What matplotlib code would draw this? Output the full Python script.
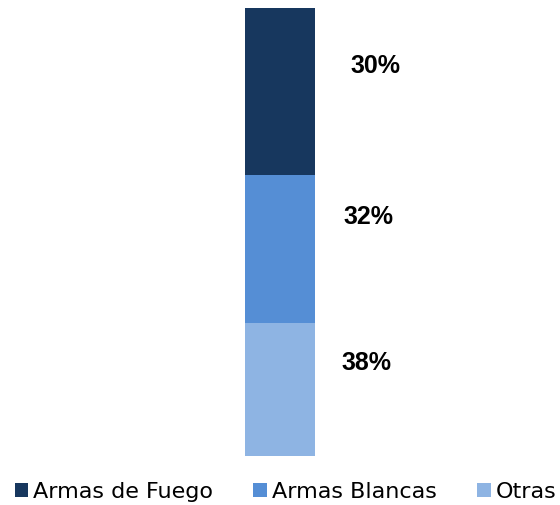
import matplotlib.pyplot as plt
from matplotlib import font_manager
import numpy as np

# categorías (de abajo hacia arriba) y alturas de los segmentos tal como se ven
categorias = ['Otras', 'Armas Blancas', 'Armas de Fuego']
alturas = [29.7, 33.0, 37.3]
# etiquetas de porcentaje mostradas
porcentajes = [38, 32, 30]
colores = ['#8EB4E3', '#558ED5', '#17375E']


def fuente_negrita():
    """Liberation Sans Bold normal (no Narrow)"""
    for f in font_manager.fontManager.ttflist:
        if f.name == 'Liberation Sans' and f.weight in (700, 'bold') \
                and f.style == 'normal':
            return font_manager.FontProperties(fname=f.fname, size=18)
    return font_manager.FontProperties(family='DejaVu Sans',
                                       weight='bold', size=18)


def main():
    fig = plt.figure(figsize=(5.6, 5.05), dpi=100)
    ax = fig.add_axes([0, 49 / 505, 1, 448 / 505])

    base = 0
    barras = []
    for cat, h, c in zip(categorias, alturas, colores):
        b = ax.bar(0, h, bottom=base, width=1, color=c, label=cat)
        barras.append(b)
        base += h

    # etiquetas cerca del centro de cada porcentaje acumulado
    acum = np.cumsum([0] + porcentajes)
    xs = [1.23, 1.26, 1.37]
    ajuste = [1.8, -0.6, 2.0]
    fp = fuente_negrita()
    for i, p in enumerate(porcentajes):
        y = (acum[i] + acum[i + 1]) / 2 + ajuste[i]
        ax.text(xs[i], y, f'{p}%', ha='center', va='center',
                fontproperties=fp)

    ax.set_xlim(-4, 4)
    ax.set_ylim(0, 100)
    ax.axis('off')

    fig.legend(barras[::-1], categorias[::-1], loc='center',
               bbox_to_anchor=(0.5 + 5.5 / 560, 13 / 505), ncol=3,
               frameon=False,
               prop={'family': 'DejaVu Sans', 'size': 16},
               handlelength=0.62, handleheight=0.62, handletextpad=0.22,
               columnspacing=1.8, borderaxespad=0)

    fig.savefig('out.png', dpi=100)


if __name__ == "__main__":
    main()
